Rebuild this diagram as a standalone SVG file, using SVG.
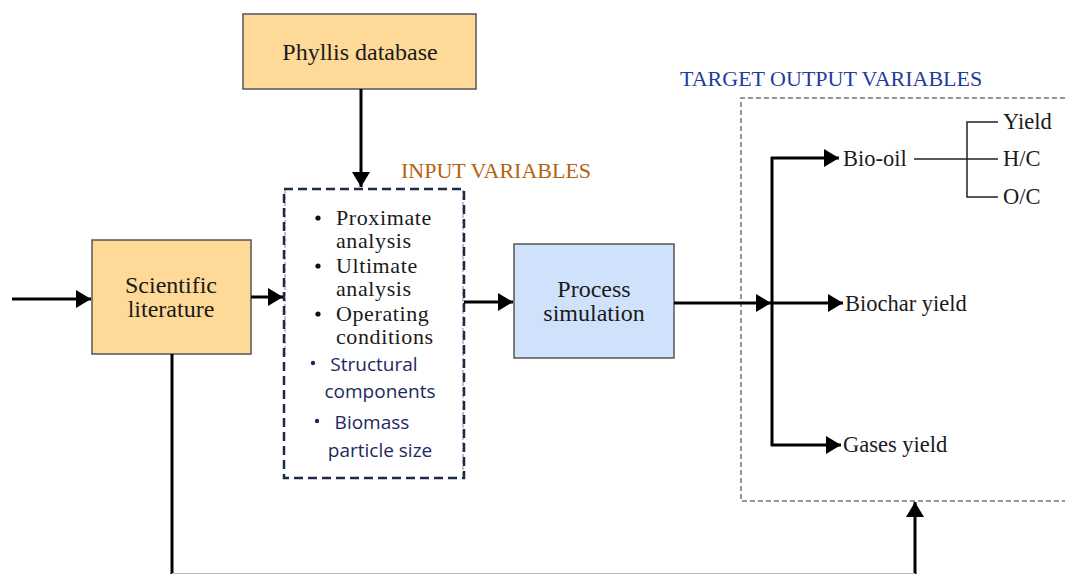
<svg xmlns="http://www.w3.org/2000/svg" width="1065" height="574" viewBox="0 0 1065 574">
  <style>
    .box { stroke: #555; stroke-width: 1.5; }
    .src { fill: #FFD997; }
    .proc { fill: #D0E2FB; }
    .serif { font-family: "Liberation Serif", "DejaVu Serif", serif; fill: #1a1a1a; }
    .lbl { font-size: 24px; }
    .list { font-size: 22px; letter-spacing: 0.6px; }
    .out { font-size: 22.5px; }
    .sans { font-family: "Open Sans", "Noto Sans", "Liberation Sans", sans-serif; fill: #1c2860; font-size: 19px; }
    .flow { stroke: #000; stroke-width: 3; fill: none; }
    .thin { stroke: #222; stroke-width: 1.5; fill: none; }
  </style>
  <defs>
    <marker id="arrow" viewBox="0 0 10 12" refX="10" refY="6" markerWidth="5" markerHeight="6" markerUnits="strokeWidth" orient="auto">
      <path d="M0,0 L10,6 L0,12 z" fill="#000"/>
    </marker>
  </defs>

  <rect width="1065" height="574" fill="#fff"/>

  <!-- section titles -->
  <text x="401" y="178" font-family="Liberation Serif, serif" font-size="22" fill="#B5630F">INPUT VARIABLES</text>
  <text x="680" y="86" font-family="Liberation Serif, serif" font-size="22" fill="#1F3C9C">TARGET OUTPUT VARIABLES</text>

  <!-- output region -->
  <g id="target-outputs">
    <path d="M1065,98 H741 V501 H1065" fill="none" stroke="#777" stroke-width="1.5" stroke-dasharray="5,3"/>
    <text class="serif out" x="843" y="166">Bio-oil</text>
    <text class="serif out" x="845" y="311">Biochar yield</text>
    <text class="serif out" x="843" y="452">Gases yield</text>
    <text class="serif out" x="1003" y="129">Yield</text>
    <text class="serif out" x="1003" y="166">H/C</text>
    <text class="serif out" x="1003" y="204">O/C</text>
  </g>

  <g id="phyllis-database">
    <rect class="box src" x="243" y="14" width="233" height="75"/>
    <text class="serif lbl" x="360" y="60" text-anchor="middle">Phyllis database</text>
  </g>

  <g id="scientific-literature">
    <rect class="box src" x="92" y="240" width="159" height="114"/>
    <text class="serif lbl" x="171" y="293" text-anchor="middle">Scientific</text>
    <text class="serif lbl" x="171" y="317" text-anchor="middle">literature</text>
  </g>

  <g id="input-variables">
    <path d="M285,190 V355 M463,190 V478" fill="none" stroke="#888" stroke-width="1" stroke-dasharray="4,2"/>
    <rect x="284" y="189" width="180" height="289" fill="none" stroke="#1c2a4e" stroke-width="2.5" stroke-dasharray="9,5"/>
    <g class="serif list">
      <circle cx="318" cy="218" r="2.6" fill="#111"/>
      <text x="336" y="225">Proximate</text>
      <text x="336" y="248">analysis</text>
      <circle cx="318" cy="266" r="2.6" fill="#111"/>
      <text x="336" y="273">Ultimate</text>
      <text x="336" y="296">analysis</text>
      <circle cx="318" cy="314" r="2.6" fill="#111"/>
      <text x="336" y="321">Operating</text>
      <text x="336" y="344">conditions</text>
    </g>
    <circle cx="313" cy="363" r="2.2" fill="#1c2860"/>
    <text class="sans" x="374" y="371" text-anchor="middle">Structural</text>
    <text class="sans" x="380" y="398" text-anchor="middle">components</text>
    <circle cx="317" cy="421" r="2.2" fill="#1c2860"/>
    <text class="sans" x="372" y="429" text-anchor="middle">Biomass</text>
    <text class="sans" x="380" y="457" text-anchor="middle">particle size</text>
  </g>

  <g id="process-simulation">
    <rect class="box proc" x="514" y="244" width="160" height="114"/>
    <text class="serif lbl" x="594" y="297" text-anchor="middle">Process</text>
    <text class="serif lbl" x="594" y="321" text-anchor="middle">simulation</text>
  </g>

  <g id="connectors">
    <line class="flow" x1="361" y1="89" x2="361" y2="187" marker-end="url(#arrow)"/>
    <line class="flow" x1="12" y1="299" x2="91" y2="299" marker-end="url(#arrow)"/>
    <line class="flow" x1="251" y1="297" x2="283" y2="297" marker-end="url(#arrow)"/>
    <line class="flow" x1="464" y1="302" x2="513" y2="302" marker-end="url(#arrow)"/>
    <line class="flow" x1="674" y1="303" x2="771" y2="303" marker-end="url(#arrow)"/>
    <line class="flow" x1="772" y1="303" x2="843" y2="303" marker-end="url(#arrow)"/>
    <line class="flow" x1="772" y1="157" x2="772" y2="446"/>
    <line class="flow" x1="771" y1="158" x2="839" y2="158" marker-end="url(#arrow)"/>
    <line class="flow" x1="771" y1="445" x2="841" y2="445" marker-end="url(#arrow)"/>
    <line class="flow" x1="172" y1="354" x2="172" y2="574"/>
    <line class="flow" x1="915" y1="574" x2="915" y2="502" marker-end="url(#arrow)"/>
    <line x1="172" y1="573.5" x2="915" y2="573.5" stroke="#bbb" stroke-width="1"/>
    <line class="thin" x1="914" y1="159" x2="998" y2="159"/>
    <path class="thin" d="M998,122 H967 V197 H998"/>
  </g>
</svg>
